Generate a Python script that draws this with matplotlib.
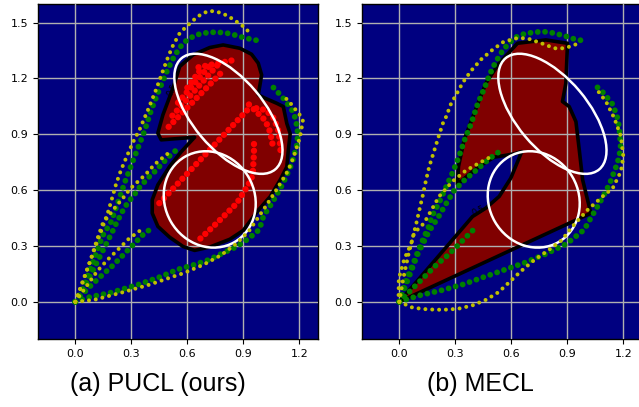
import matplotlib
matplotlib.use("Agg")
import matplotlib.pyplot as plt
from matplotlib.patches import Polygon, Ellipse

# ---------------- data ----------------
x_ticks = [0.0, 0.3, 0.6, 0.9, 1.2]
y_ticks = [0.0, 0.3, 0.6, 0.9, 1.2, 1.5]
x_tick_labels = ["0.0", "0.3", "0.6", "0.9", "1.2"]
y_tick_labels = ["0.0", "0.3", "0.6", "0.9", "1.2", "1.5"]
captions = ["(a) PUCL (ours)", "(b) MECL"]
contour_level_label = "0.5"

# obstacle ellipses (center x, center y, width, height, angle)
ellipse_cx = [0.82, 0.72]
ellipse_cy = [1.01, 0.55]
ellipse_w = [0.78, 0.53]
ellipse_h = [0.38, 0.48]
ellipse_ang = [-50, -60]

# learned feasible region (PUCL)
pucl_region_x = [0.442, 0.460, 0.639, 0.568, 0.505, 0.442, 0.412, 0.412, 0.442, 0.505, 0.577, 0.639,
                 0.720, 0.828, 0.899, 0.980, 1.043, 1.097, 1.133, 1.141, 1.151, 1.133, 1.114, 1.078,
                 1.016, 0.980, 0.989, 0.998, 0.980, 0.944, 0.882, 0.792, 0.720, 0.631, 0.559, 0.523,
                 0.496, 0.469]
pucl_region_y = [0.906, 0.870, 0.884, 0.807, 0.727, 0.628, 0.548, 0.476, 0.405, 0.347, 0.297, 0.276,
                 0.294, 0.336, 0.383, 0.492, 0.564, 0.654, 0.725, 0.815, 0.904, 0.958, 1.049, 1.067,
                 1.094, 1.112, 1.165, 1.219, 1.282, 1.330, 1.362, 1.380, 1.366, 1.327, 1.264, 1.148,
                 1.076, 1.004]

# learned feasible region (MECL)
mecl_region_x = [0.0, 0.392, 0.463, 0.535, 0.597, 0.656, 0.615, 0.553, 0.508, 0.427, 0.311, 0.317,
                 0.347, 0.401, 0.463, 0.535, 0.633, 0.785, 0.901, 0.892, 0.874, 0.910, 0.946, 0.964,
                 0.982, 1.026]
mecl_region_y = [0.0, 0.458, 0.503, 0.566, 0.664, 0.807, 0.795, 0.784, 0.777, 0.727, 0.632, 0.727,
                 0.870, 1.013, 1.174, 1.282, 1.389, 1.407, 1.389, 1.174, 1.076, 1.049, 0.968, 0.816,
                 0.655, 0.476]

# ---- PUCL trajectories ----
pucl_g1_x = [0.0, 0.04, 0.09, 0.147, 0.192, 0.231, 0.269, 0.312, 0.371, 0.407, 0.437, 0.466, 0.496,
             0.532, 0.577, 0.613, 0.649, 0.685, 0.726, 0.765, 0.805, 0.842, 0.882, 0.918, 0.953, 0.984]
pucl_g1_y = [0.0, 0.07, 0.20, 0.356, 0.430, 0.542, 0.653, 0.766, 0.918, 1.031, 1.108, 1.180, 1.251,
             1.323, 1.390, 1.416, 1.434, 1.443, 1.448, 1.448, 1.445, 1.437, 1.425, 1.416, 1.408, 1.403]
pucl_y1_x = [0.0, 0.03, 0.08, 0.12, 0.174, 0.197, 0.219, 0.246, 0.276, 0.308, 0.344, 0.389, 0.434,
             0.461, 0.491, 0.520, 0.559, 0.586, 0.645, 0.679, 0.717, 0.756, 0.792, 0.828, 0.864,
             0.894, 0.925, 0.950]
pucl_y1_y = [0.0, 0.08, 0.22, 0.33, 0.478, 0.557, 0.635, 0.711, 0.782, 0.856, 0.925, 1.031, 1.144,
             1.219, 1.300, 1.371, 1.443, 1.470, 1.524, 1.548, 1.563, 1.559, 1.548, 1.529, 1.505,
             1.484, 1.455, 1.435]
pucl_g2_x = [0.0, 0.05, 0.09, 0.13, 0.17, 0.20, 0.219, 0.237, 0.254, 0.276, 0.299, 0.323, 0.348, 0.376,
             0.403, 0.434, 0.461, 0.487, 0.514, 0.541]
pucl_g2_y = [0.0, 0.08, 0.16, 0.24, 0.32, 0.38, 0.421, 0.456, 0.489, 0.525, 0.555, 0.585, 0.621, 0.650,
             0.680, 0.707, 0.739, 0.764, 0.793, 0.815]
pucl_y2_x = [0.0, 0.04, 0.08, 0.115, 0.147, 0.174, 0.201, 0.228, 0.254, 0.276, 0.305, 0.332, 0.362,
             0.389, 0.416, 0.446, 0.478, 0.50]
pucl_y2_y = [0.0, 0.11, 0.22, 0.33, 0.421, 0.456, 0.492, 0.525, 0.555, 0.585, 0.618, 0.643, 0.671,
             0.698, 0.729, 0.757, 0.782, 0.80]
pucl_g3_x = [0.0, 0.022, 0.084, 0.141, 0.201, 0.254, 0.314, 0.367, 0.398, 0.42]
pucl_g3_y = [0.0, 0.025, 0.088, 0.141, 0.195, 0.249, 0.311, 0.365, 0.387, 0.405]
pucl_y3_x = [0.0, 0.05, 0.120, 0.174, 0.233, 0.290, 0.323, 0.35]
pucl_y3_y = [0.0, 0.07, 0.168, 0.227, 0.285, 0.342, 0.365, 0.385]
pucl_g4_x = [0.0, 0.075, 0.186, 0.339, 0.452, 0.55, 0.640, 0.717, 0.789, 0.860, 0.926, 0.986, 1.007,
             1.029, 1.052, 1.111, 1.160, 1.190, 1.19, 1.177, 1.163, 1.141, 1.118, 1.093, 1.065, 1.034]
pucl_g4_y = [0.0, 0.025, 0.048, 0.093, 0.133, 0.174, 0.200, 0.226, 0.261, 0.294, 0.338, 0.388, 0.457,
             0.493, 0.528, 0.632, 0.743, 0.854, 0.93, 0.990, 1.026, 1.058, 1.089, 1.117, 1.148, 1.174]
pucl_y4_x = [0.0, 0.10, 0.25, 0.394, 0.541, 0.581, 0.688, 0.78, 0.86, 0.93, 1.016, 1.07, 1.141, 1.17,
             1.204, 1.219, 1.200, 1.177, 1.15, 1.124]
pucl_y4_y = [0.0, 0.01, 0.05, 0.091, 0.141, 0.154, 0.200, 0.25, 0.31, 0.38, 0.507, 0.59, 0.707, 0.78,
             0.886, 0.972, 1.008, 1.036, 1.07, 1.097]

# PUCL sampled (red) trajectories
red1_x = [0.45, 0.94]
red1_y = [0.53, 1.05]
red2_x = [0.67, 0.756, 0.864, 0.926, 0.95, 0.957, 0.957]
red2_y = [0.34, 0.421, 0.528, 0.627, 0.68, 0.796, 0.868]
red3_x = [0.93, 1.007, 1.029, 1.043, 1.052, 1.061]
red3_y = [1.06, 0.985, 0.949, 0.913, 0.868, 0.823]
red4_x = [0.97, 1.02, 1.06, 1.085, 1.095, 1.10]
red4_y = [1.04, 1.03, 0.99, 0.93, 0.87, 0.80]
red5_x = [0.50, 0.80]
red5_y = [0.94, 1.25]
red6_x = [0.52, 0.76]
red6_y = [1.00, 1.27]
red7_x = [0.55, 0.72]
red7_y = [1.07, 1.27]
red8_x = [0.60, 0.68]
red8_y = [1.15, 1.26]
red9_x = [0.66, 0.855]
red9_y = [1.26, 1.30]

# ---- MECL trajectories ----
mecl_g1_x = [0.0, 0.03, 0.08, 0.12, 0.161, 0.174, 0.215, 0.251, 0.287, 0.319, 0.349, 0.385, 0.421,
             0.456, 0.483, 0.515, 0.558, 0.614, 0.650, 0.685, 0.725, 0.766, 0.805, 0.846, 0.886,
             0.922, 0.958, 0.988]
mecl_g1_y = [0.0, 0.10, 0.22, 0.32, 0.412, 0.457, 0.537, 0.618, 0.698, 0.779, 0.868, 0.958, 1.067,
             1.148, 1.219, 1.287, 1.357, 1.416, 1.434, 1.443, 1.448, 1.452, 1.448, 1.439, 1.429,
             1.416, 1.407, 1.403]
mecl_y1_x = [0.0, -0.004, -0.003, 0.027, 0.063, 0.090, 0.107, 0.126, 0.143, 0.161, 0.185, 0.210,
             0.233, 0.251, 0.278, 0.301, 0.340, 0.385, 0.439, 0.498, 0.560, 0.630, 0.684, 0.761,
             0.832, 0.872, 0.913, 0.948]
mecl_y1_y = [0.0, 0.034, 0.124, 0.231, 0.311, 0.417, 0.492, 0.573, 0.654, 0.729, 0.806, 0.886,
             0.958, 0.995, 1.067, 1.106, 1.178, 1.242, 1.303, 1.353, 1.398, 1.416, 1.416, 1.389,
             1.362, 1.362, 1.371, 1.384]
mecl_g2_x = [0.0, 0.05, 0.10, 0.16, 0.210, 0.251, 0.295, 0.349, 0.412, 0.484, 0.551]
mecl_g2_y = [0.0, 0.13, 0.26, 0.38, 0.457, 0.528, 0.600, 0.654, 0.707, 0.770, 0.818]
mecl_y2_x = [0.0, 0.02, 0.05, 0.079, 0.132, 0.213, 0.284, 0.356, 0.427, 0.499]
mecl_y2_y = [0.0, 0.12, 0.26, 0.369, 0.422, 0.566, 0.646, 0.705, 0.745, 0.784]
mecl_g3_x = [0.0, 0.06, 0.13, 0.20, 0.26, 0.304, 0.35, 0.40]
mecl_g3_y = [0.0, 0.06, 0.13, 0.20, 0.25, 0.294, 0.34, 0.39]
mecl_g4_x = [0.0, 0.107, 0.224, 0.340, 0.453, 0.564, 0.680, 0.787, 0.895, 0.990, 1.086, 1.127,
             1.169, 1.186, 1.181, 1.172, 1.145, 1.095, 1.038]
mecl_g4_y = [0.0, 0.034, 0.061, 0.093, 0.133, 0.172, 0.213, 0.258, 0.311, 0.387, 0.555, 0.635,
             0.747, 0.823, 0.904, 0.976, 1.058, 1.121, 1.174]
mecl_y4_x = [0.0, 0.072, 0.152, 0.233, 0.313, 0.390, 0.465, 0.532, 0.590, 0.650, 0.725, 0.797,
             0.868, 0.928, 1.009, 1.089, 1.143, 1.187, 1.200, 1.187, 1.152, 1.107, 1.053]
mecl_y4_y = [0.0, -0.032, -0.041, -0.043, -0.038, -0.020, 0.011, 0.052, 0.106, 0.163, 0.226, 0.276,
             0.329, 0.405, 0.494, 0.566, 0.610, 0.700, 0.780, 0.888, 0.986, 1.076, 1.147]

# ---------------- style ----------------
NAVY = "#000080"
DARKRED = "#800000"
GREEN = "#008000"
YELLOW = "#bfbf00"
RED = "#ff0000"

fig = plt.figure(figsize=(6.39, 4.07), dpi=100)
ax_l = fig.add_axes([38 / 639, 68 / 407, 280 / 639, 335 / 407])
ax_r = fig.add_axes([362 / 639, 68 / 407, 280 / 639, 335 / 407])


def dots(ax, xs, ys, color, size, gap, z):
    ax.plot(xs, ys, color=color, lw=size, linestyle=(0, (0.001, gap)),
            dash_capstyle="round", zorder=z)


def setup(ax, rx, ry):
    ax.set_facecolor(NAVY)
    ax.add_patch(Polygon(list(zip(rx, ry)), closed=True, facecolor=DARKRED,
                         edgecolor="none", zorder=1))
    ax.add_patch(Polygon(list(zip(rx, ry)), closed=True, facecolor="none",
                         edgecolor="black", lw=2.6, joinstyle="round", zorder=3))
    for cx, cy, w, h, a in zip(ellipse_cx, ellipse_cy, ellipse_w, ellipse_h, ellipse_ang):
        ax.add_patch(Ellipse((cx, cy), w, h, angle=a, facecolor="none",
                             edgecolor="white", lw=1.8, zorder=4))
    ax.set_xlim(-0.2, 1.3)
    ax.set_ylim(-0.2, 1.6)
    ax.set_xticks(x_ticks)
    ax.set_xticklabels(x_tick_labels)
    ax.set_yticks(y_ticks)
    ax.set_yticklabels(y_tick_labels)
    ax.tick_params(labelsize=8, length=3.5, width=0.8)
    ax.set_axisbelow(False)
    ax.grid(True, color="#b0b0b0", lw=1.0)
    for s in ax.spines.values():
        s.set_color("black")
        s.set_linewidth(1.0)


setup(ax_l, pucl_region_x, pucl_region_y)
setup(ax_r, mecl_region_x, mecl_region_y)

# red sampled trajectories (PUCL)
for rx, ry in [(red1_x, red1_y), (red2_x, red2_y), (red3_x, red3_y), (red4_x, red4_y),
               (red5_x, red5_y), (red6_x, red6_y), (red7_x, red7_y), (red8_x, red8_y),
               (red9_x, red9_y)]:
    dots(ax_l, rx, ry, RED, 4.6, 1.05, 2.6)

G_SIZE, G_GAP = 4.2, 1.25
Y_SIZE, Y_GAP = 2.9, 1.7
for gx, gy in [(pucl_g1_x, pucl_g1_y), (pucl_g2_x, pucl_g2_y), (pucl_g3_x, pucl_g3_y),
               (pucl_g4_x, pucl_g4_y)]:
    dots(ax_l, gx, gy, GREEN, G_SIZE, G_GAP, 5)
for yx, yy in [(pucl_y1_x, pucl_y1_y), (pucl_y2_x, pucl_y2_y), (pucl_y3_x, pucl_y3_y),
               (pucl_y4_x, pucl_y4_y)]:
    dots(ax_l, yx, yy, YELLOW, Y_SIZE, Y_GAP, 6)
for gx, gy in [(mecl_g1_x, mecl_g1_y), (mecl_g2_x, mecl_g2_y), (mecl_g3_x, mecl_g3_y),
               (mecl_g4_x, mecl_g4_y)]:
    dots(ax_r, gx, gy, GREEN, G_SIZE, G_GAP, 5)
for yx, yy in [(mecl_y1_x, mecl_y1_y), (mecl_y2_x, mecl_y2_y), (mecl_y4_x, mecl_y4_y)]:
    dots(ax_r, yx, yy, YELLOW, Y_SIZE, Y_GAP, 6)

# contour level labels (mostly hidden)
ax_l.text(0.52, 1.14, contour_level_label, fontsize=6, color="black", rotation=62,
          ha="center", va="center", zorder=3.5)
ax_r.text(0.425, 0.49, contour_level_label, fontsize=6, color="black", rotation=25,
          ha="center", va="center", zorder=3.5)

fig.text(158 / 639, 23 / 407, captions[0], fontsize=18, family="Liberation Sans",
         ha="center", va="center")
fig.text(480 / 639, 23 / 407, captions[1], fontsize=18, family="Liberation Sans",
         ha="center", va="center")

fig.savefig("out.png", dpi=100)
